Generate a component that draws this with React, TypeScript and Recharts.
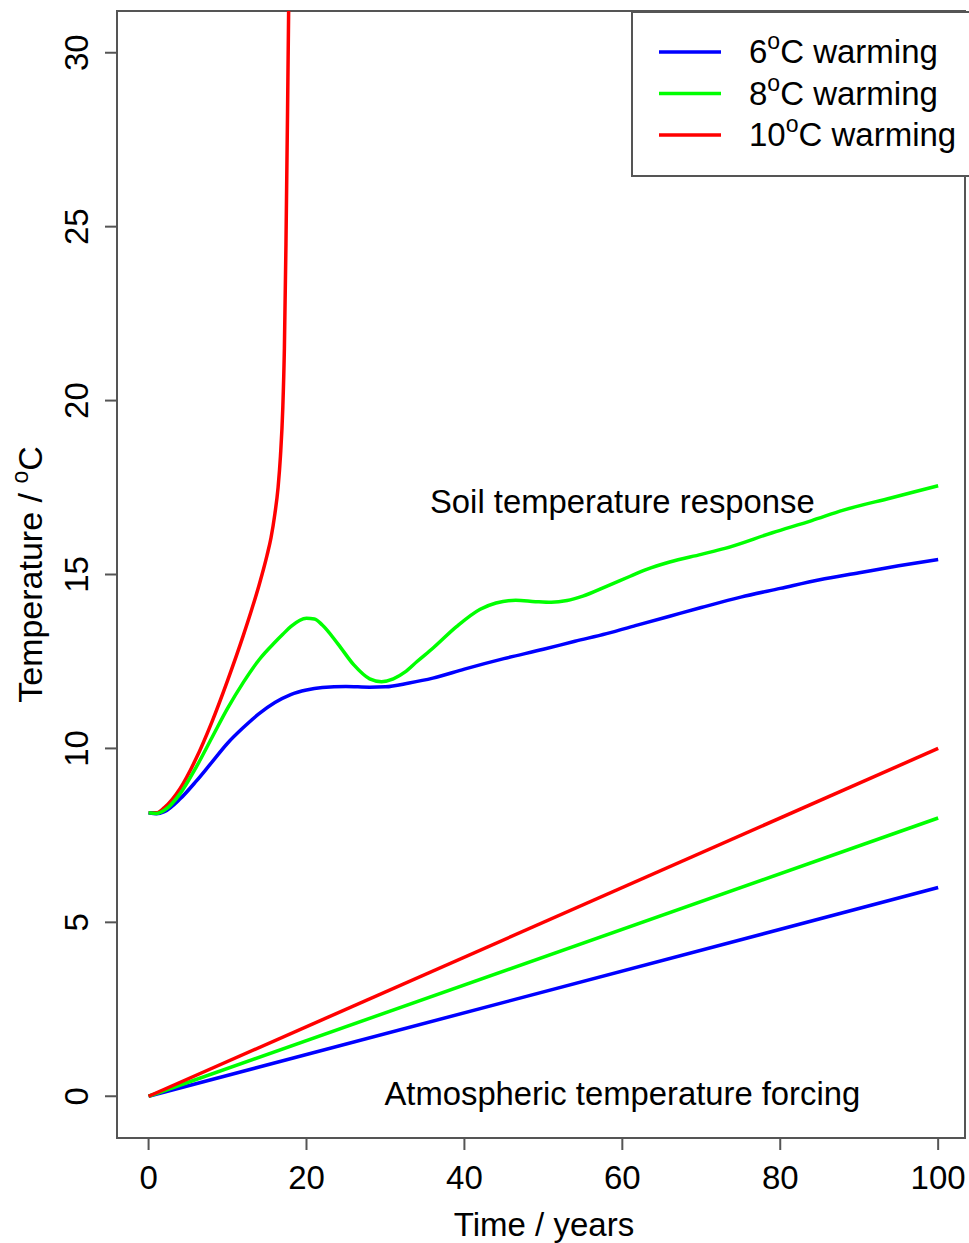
import React from 'react';
import {
  LineChart,
  Line,
  XAxis,
  YAxis,
  ReferenceArea,
  ReferenceDot,
  Legend,
} from 'recharts';

const FONT = '"Liberation Sans", Arial, Helvetica, sans-serif';

// x-axis ticks (years) and y-axis ticks (°C)
const xTicks = [0, 20, 40, 60, 80, 100];
const yTicks = [0, 5, 10, 15, 20, 25, 30];

// Soil temperature response
const soilBlue = [
  { year: 0, t: 8.15 }, { year: 1, t: 8.12 }, { year: 2, t: 8.18 }, { year: 4, t: 8.55 },
  { year: 6, t: 9.05 }, { year: 8, t: 9.6 }, { year: 10, t: 10.15 }, { year: 12, t: 10.6 },
  { year: 14, t: 11.0 }, { year: 16, t: 11.32 }, { year: 18, t: 11.55 }, { year: 20, t: 11.68 },
  { year: 22, t: 11.75 }, { year: 25, t: 11.78 }, { year: 28, t: 11.76 }, { year: 30, t: 11.77 },
  { year: 33, t: 11.88 }, { year: 36, t: 12.02 }, { year: 40, t: 12.28 }, { year: 45, t: 12.58 },
  { year: 50, t: 12.85 }, { year: 54, t: 13.08 }, { year: 58, t: 13.3 }, { year: 62, t: 13.55 },
  { year: 66, t: 13.8 }, { year: 70, t: 14.05 }, { year: 75, t: 14.35 }, { year: 80, t: 14.6 },
  { year: 85, t: 14.85 }, { year: 90, t: 15.05 }, { year: 95, t: 15.25 }, { year: 100, t: 15.43 },
];

const soilGreen = [
  { year: 0, t: 8.15 }, { year: 1, t: 8.13 }, { year: 2, t: 8.22 }, { year: 4, t: 8.7 },
  { year: 6, t: 9.45 }, { year: 8, t: 10.3 }, { year: 10, t: 11.15 }, { year: 12, t: 11.9 },
  { year: 14, t: 12.55 }, { year: 16, t: 13.05 }, { year: 17, t: 13.28 }, { year: 18, t: 13.5 },
  { year: 20, t: 13.74 }, { year: 21, t: 13.72 }, { year: 22, t: 13.55 }, { year: 24, t: 13.0 },
  { year: 26, t: 12.4 }, { year: 28, t: 12.0 }, { year: 29.5, t: 11.92 }, { year: 31, t: 12.0 },
  { year: 32.5, t: 12.2 }, { year: 34, t: 12.5 }, { year: 36, t: 12.88 }, { year: 39, t: 13.5 },
  { year: 42, t: 14.0 }, { year: 44, t: 14.18 }, { year: 46.5, t: 14.26 }, { year: 49, t: 14.22 },
  { year: 51, t: 14.2 }, { year: 53, t: 14.25 }, { year: 55, t: 14.38 }, { year: 58, t: 14.66 },
  { year: 61, t: 14.95 }, { year: 63, t: 15.14 }, { year: 66, t: 15.36 }, { year: 70, t: 15.58 },
  { year: 73, t: 15.75 }, { year: 79, t: 16.2 }, { year: 84, t: 16.55 }, { year: 88, t: 16.85 },
  { year: 94, t: 17.2 }, { year: 100, t: 17.55 },
];

const soilRed = [
  { year: 0, t: 8.15 }, { year: 1, t: 8.15 }, { year: 2, t: 8.3 }, { year: 4, t: 8.85 },
  { year: 6, t: 9.7 }, { year: 8, t: 10.75 }, { year: 10, t: 11.95 }, { year: 12, t: 13.25 },
  { year: 13, t: 13.95 }, { year: 14, t: 14.7 }, { year: 15, t: 15.55 }, { year: 15.5, t: 16.05 },
  { year: 16, t: 16.75 }, { year: 16.4, t: 17.5 }, { year: 16.7, t: 18.4 }, { year: 17.0, t: 19.8 },
  { year: 17.2, t: 21.5 }, { year: 17.4, t: 24.5 }, { year: 17.6, t: 28.3 }, { year: 17.8, t: 32.5 },
  { year: 18.0, t: 37 },
];

// Atmospheric temperature forcing
const atmBlue = [{ year: 0, t: 0 }, { year: 100, t: 6 }];
const atmGreen = [{ year: 0, t: 0 }, { year: 100, t: 8 }];
const atmRed = [{ year: 0, t: 0 }, { year: 100, t: 10 }];

const legendItems = [
  { num: '6', color: '#0000FF' },
  { num: '8', color: '#00FF00' },
  { num: '10', color: '#FF0000' },
];

const AXIS_COLOR = '#555';

const XTick = (props: any) => {
  const { x, y, payload } = props;
  return (
    <text x={x} y={y + 37} textAnchor="middle" fontSize={33} fontFamily={FONT} fill="#000">
      {payload.value}
    </text>
  );
};

const YTick = (props: any) => {
  const { x, y, payload } = props;
  const bx = x - 15;
  return (
    <text
      x={bx}
      y={y}
      textAnchor="middle"
      fontSize={33}
      fontFamily={FONT}
      fill="#000"
      transform={`rotate(-90, ${bx}, ${y})`}
    >
      {payload.value}
    </text>
  );
};

const LegendBox = () => (
  <svg width={338} height={167} style={{ display: 'block' }}>
    <rect x={1} y={1} width={340} height={164} fill="#fff" stroke={AXIS_COLOR} strokeWidth={2} />
    {legendItems.map((it, i) => {
      const ly = 41 + i * 41.5;
      return (
        <g key={it.num}>
          <line x1={28} x2={90} y1={ly} y2={ly} stroke={it.color} strokeWidth={3.5} />
          <text x={118} y={ly + 11} fontSize={33} fontFamily={FONT} fill="#000">
            {it.num}
            <tspan fontSize={23} dy={-14}>o</tspan>
            <tspan dy={14}>C warming</tspan>
          </text>
        </g>
      );
    })}
  </svg>
);

const Annot = (text: string) => (props: any) => {
  const { cx, cy } = props;
  return (
    <text x={cx} y={cy + 12} textAnchor="middle" fontSize={32.8} fontFamily={FONT} fill="#000">
      {text}
    </text>
  );
};

export default function App() {
  return (
    <div style={{ position: 'absolute', left: 0, top: 0, background: '#fff' }}>
      <LineChart width={969} height={1243} margin={{ top: 11, right: 4, bottom: 0, left: 0 }}>
        <XAxis
          type="number"
          dataKey="year"
          domain={[-4, 103.4]}
          ticks={xTicks}
          allowDataOverflow
          height={105}
          axisLine={false}
          tickSize={12}
          tickLine={{ stroke: AXIS_COLOR, strokeWidth: 2 }}
          tick={<XTick />}
          interval={0}
          label={{
            content: (p: any) => {
              const vb = p.viewBox || { x: 117, y: 1138, width: 848 };
              return (
                <text
                  x={vb.x + vb.width / 2 + 3}
                  y={vb.y + 98}
                  textAnchor="middle"
                  fontSize={33}
                  fontFamily={FONT}
                  fill="#000"
                >
                  Time / years
                </text>
              );
            },
          }}
        />
        <YAxis
          type="number"
          domain={[-1.2, 31.2]}
          ticks={yTicks}
          allowDataOverflow
          width={117}
          axisLine={false}
          tickSize={12}
          tickLine={{ stroke: AXIS_COLOR, strokeWidth: 2 }}
          tick={<YTick />}
          interval={0}
          label={{
            content: (p: any) => {
              const vb = p.viewBox || { x: 0, y: 11, width: 117, height: 1127 };
              const cx = 42;
              const cy = vb.y + vb.height / 2;
              return (
                <text
                  x={cx}
                  y={cy}
                  textAnchor="middle"
                  fontSize={34}
                  fontFamily={FONT}
                  fill="#000"
                  transform={`rotate(-90, ${cx}, ${cy})`}
                >
                  Temperature / <tspan fontSize={23} dy={-14}>o</tspan>
                  <tspan dy={14}>C</tspan>
                </text>
              );
            },
          }}
        />
        <ReferenceArea
          x1={-4}
          x2={103.4}
          y1={-1.2}
          y2={31.2}
          fill="none"
          fillOpacity={0}
          stroke={AXIS_COLOR}
          strokeWidth={2}
          ifOverflow="visible"
        />
        <Line data={atmBlue} dataKey="t" type="linear" stroke="#0000FF" strokeWidth={3.5} dot={false} isAnimationActive={false} />
        <Line data={atmGreen} dataKey="t" type="linear" stroke="#00FF00" strokeWidth={3.5} dot={false} isAnimationActive={false} />
        <Line data={atmRed} dataKey="t" type="linear" stroke="#FF0000" strokeWidth={3.5} dot={false} isAnimationActive={false} />
        <Line data={soilRed} dataKey="t" type="monotone" stroke="#FF0000" strokeWidth={3.5} dot={false} isAnimationActive={false} />
        <Line data={soilBlue} dataKey="t" type="monotone" stroke="#0000FF" strokeWidth={3.5} dot={false} isAnimationActive={false} />
        <Line data={soilGreen} dataKey="t" type="monotone" stroke="#00FF00" strokeWidth={3.5} dot={false} isAnimationActive={false} />
        <ReferenceDot x={60} y={17.1} r={0} ifOverflow="visible" shape={Annot('Soil temperature response')} />
        <ReferenceDot x={60} y={0.08} r={0} ifOverflow="visible" shape={Annot('Atmospheric temperature forcing')} />
        <Legend
          layout="horizontal"
          verticalAlign="middle"
          align="center"
          content={() => <LegendBox />}
          wrapperStyle={{ position: 'absolute', left: 631, top: 11, width: 338, height: 167 }}
        />
      </LineChart>
    </div>
  );
}
